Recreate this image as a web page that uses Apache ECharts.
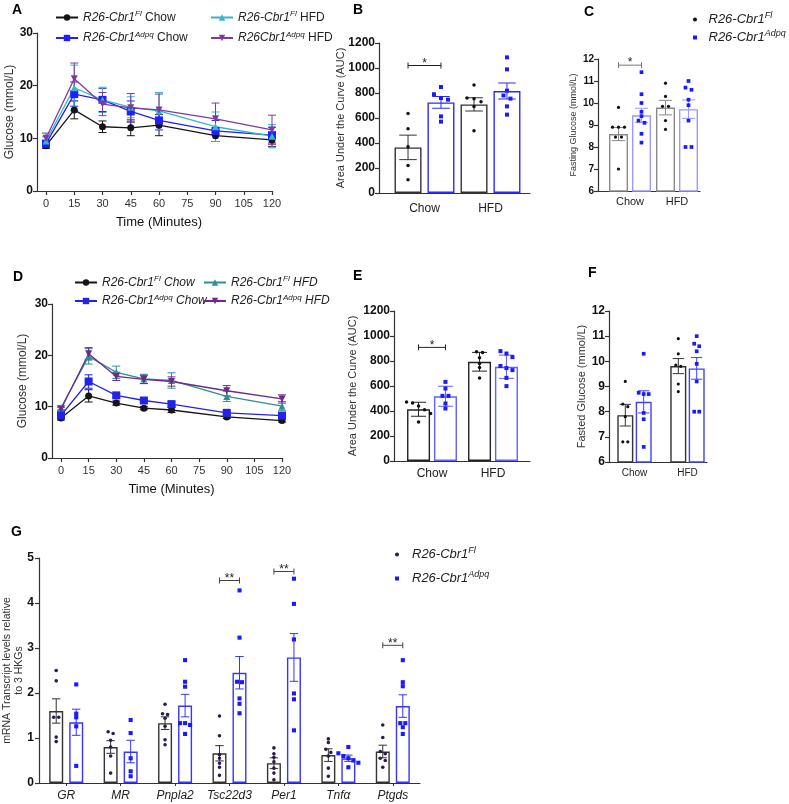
<!DOCTYPE html>
<html><head><meta charset="utf-8">
<script src="https://cdn.jsdelivr.net/npm/echarts@6/dist/echarts.min.js"></script>
<style>html,body{margin:0;padding:0;background:#fff}#c{width:789px;height:804px}</style>
</head><body><div id="c"></div>
<script>
// ================= DATA =================
const timePoints = [0, 15, 30, 45, 60, 90, 120];
// Panel A
const A_flChow = [8.6, 15.4, 12.2, 12.0, 12.5, 10.5, 9.7];
const A_flChowErr = [0.5, 1.7, 1.1, 1.5, 2.0, 1.1, 1.3];
const A_adChow = [9.0, 18.4, 17.3, 15.1, 13.4, 11.4, 10.6];
const A_adChowErr = [0.6, 2.3, 2.2, 2.0, 1.8, 2.0, 1.5];
const A_flHfd = [9.5, 19.6, 17.3, 15.9, 15.2, 12.2, 10.4];
const A_flHfdErr = [0.8, 4.3, 2.4, 2.0, 3.5, 2.8, 2.2];
const A_adHfd = [10.0, 21.3, 16.5, 15.8, 15.4, 13.7, 11.6];
const A_adHfdErr = [1.0, 3.0, 2.2, 2.7, 3.0, 3.0, 2.8];
// Panel D
const D_flChow = [7.8, 12.1, 10.7, 9.7, 9.35, 8.0, 7.3];
const D_flChowErr = [0.4, 1.2, 0.4, 0.3, 0.5, 0.3, 0.3];
const D_adChow = [8.3, 14.9, 12.2, 11.2, 10.5, 8.8, 8.25];
const D_adChowErr = [0.4, 1.3, 0.3, 0.3, 0.4, 0.3, 0.4];
const D_flHfd = [9.8, 19.8, 16.7, 15.4, 15.1, 12.0, 10.1];
const D_flHfdErr = [0.4, 1.5, 1.2, 0.9, 1.5, 1.0, 0.9];
const D_adHfd = [9.5, 20.3, 15.9, 15.3, 14.9, 13.1, 11.5];
const D_adHfdErr = [0.4, 1.2, 0.8, 0.8, 0.9, 1.0, 0.8];

const dietCats = ['Chow', 'HFD'];
// Panel B (AUC)
const B_flMean = [365, 709], B_flErr = [98, 53];
const B_adMean = [725, 816], B_adErr = [47, 64];
const B_flPts = [[637, 515, 371, 221, 107], [864, 760, 755, 730, 693, 499]];
const B_adPts = [[848, 790, 760, 747, 613, 571], [1085, 989, 819, 780, 755, 693, 627]];
const B_sigCat = [0], B_sigY = [1020], B_sigText = ['*'];
// Panel C (fasting glucose)
const C_flMean = [8.59, 9.79], C_flErr = [0.30, 0.33];
const C_adMean = [9.44, 9.72], C_adErr = [0.32, 0.42];
const C_flPts = [[9.8, 8.9, 8.9, 8.9, 8.45, 8.45, 7.0], [10.9, 10.3, 9.85, 9.85, 9.2, 8.8]];
const C_adPts = [[11.4, 10.4, 10.0, 9.6, 9.4, 9.2, 9.1, 8.6, 8.2], [11.0, 10.7, 10.6, 10.15, 9.9, 9.2, 8.0, 8.0]];
const C_sigCat = [0], C_sigY = [11.72], C_sigText = ['*'];
// Panel E (AUC)
const E_flMean = [414, 794], E_flErr = [56, 75];
const E_adMean = [518, 754], E_adErr = [80, 93];
const E_flPts = [[473, 465, 440, 410, 380, 313], [874, 869, 826, 780, 748, 665]];
const E_adPts = [[633, 580, 521, 521, 460, 420], [879, 860, 831, 760, 743, 727, 665, 599]];
const E_sigCat = [0], E_sigY = [909], E_sigText = ['*'];
// Panel F (fasted glucose)
const F_flMean = [7.86, 9.81], F_flErr = [0.43, 0.30];
const F_adMean = [8.39, 9.72], F_adErr = [0.44, 0.43];
const F_flPts = [[9.2, 8.3, 8.2, 7.8, 6.8, 6.8], [10.9, 10.3, 9.85, 9.8, 9.1, 8.8]];
const F_adPts = [[10.3, 8.75, 8.7, 8.7, 7.95, 7.7, 6.6], [11.0, 10.7, 10.6, 10.4, 9.9, 9.2, 8.0, 8.0]];
// Panel G (mRNA)
const genes = ['GR', 'MR', 'Pnpla2', 'Tsc22d3', 'Per1', 'Tnfα', 'Ptgds'];
const G_flMean = [1.60, 0.80, 1.33, 0.66, 0.44, 0.62, 0.70];
const G_flErr = [0.27, 0.14, 0.14, 0.17, 0.12, 0.14, 0.14];
const G_adMean = [1.35, 0.70, 1.72, 2.45, 2.79, 0.55, 1.71];
const G_adErr = [0.29, 0.25, 0.25, 0.36, 0.53, 0.07, 0.25];
const G_flPts = [
  [2.5, 2.27, 1.46, 1.46, 1.02, 0.92],
  [1.14, 1.1, 0.95, 0.8, 0.6, 0.22],
  [1.75, 1.54, 1.52, 1.44, 1.26, 0.96, 0.85],
  [1.49, 1.05, 0.63, 0.55, 0.44, 0.35, 0.17],
  [0.78, 0.65, 0.57, 0.47, 0.33, 0.22, 0.07],
  [0.98, 0.9, 0.75, 0.68, 0.6, 0.33, 0.15],
  [1.29, 1.01, 0.7, 0.65, 0.55, 0.5, 0.35]
];
const G_adPts = [
  [2.19, 1.54, 1.46, 1.26, 0.38],
  [1.4, 1.11, 0.55, 0.26, 0.15],
  [2.73, 2.25, 2.14, 1.33, 1.33, 1.29, 1.09],
  [4.28, 3.23, 2.25, 2.24, 1.88, 1.76, 1.55],
  [4.54, 3.98, 3.19, 1.99, 1.86, 1.17],
  [0.8, 0.66, 0.6, 0.55, 0.5, 0.45, 0.35],
  [2.73, 2.24, 2.15, 1.33, 1.33, 1.24, 1.09]
];
const G_sigCat = [3, 4, 6], G_sigY = [4.5, 4.7, 3.06], G_sigText = ['**', '**', '**'];

// ================= CHART =================
const FONT = '"Liberation Sans", Arial, sans-serif';
const AX = '#333';
const grid = [], xAxis = [], yAxis = [], series = [], legend = [], title = [];
const plain = function (v) { return String(v); };

function addGrid(l, r, t, b) { grid.push({ left: l, top: t, width: r - l, height: b - t }); return grid.length - 1; }
function aLine() { return { show: true, onZero: false, lineStyle: { color: AX, width: 1.2 } }; }

function frame(l, r, t, b, ymin, ymax, yint, yname, o) {
  const g = addGrid(l, r, t, b);
  xAxis.push({ gridIndex: g, type: 'value', min: 0, max: 1, axisLine: aLine(), axisTick: { show: false }, axisLabel: { show: false }, splitLine: { show: false } });
  yAxis.push({ gridIndex: g, type: 'value', min: ymin, max: ymax, interval: yint, axisLine: aLine(),
    axisTick: { show: true, length: 4, lineStyle: { color: AX, width: 1.2 } },
    axisLabel: { fontFamily: FONT, fontWeight: 'bold', fontSize: o.ls, color: '#111', margin: 4, formatter: plain },
    splitLine: { show: false }, name: yname, nameLocation: 'middle', nameGap: o.ng, nameRotate: 90, nameMoveOverlap: false,
    nameTextStyle: { fontFamily: FONT, fontSize: o.ns, color: '#333', lineHeight: o.lh || o.ns + 2 } });
  return g;
}
function lineData(l, r, t, b, ymax, o) {
  const g = addGrid(l, r, t, b);
  xAxis.push({ gridIndex: g, type: 'value', min: 0, max: 120, interval: 15, axisLine: aLine(),
    axisTick: { show: true, length: 4, lineStyle: { color: AX, width: 1.2 } },
    axisLabel: { fontFamily: FONT, fontSize: 11, color: '#333', margin: 7, formatter: plain }, splitLine: { show: false },
    name: 'Time (Minutes)', nameLocation: 'middle', nameGap: o.ng, nameTextStyle: { fontFamily: FONT, fontSize: 13, color: '#111' } });
  yAxis.push({ gridIndex: g, type: 'value', min: 0, max: ymax, show: false });
  return g;
}
function barData(l, r, t, b, ymin, ymax, o) {
  const g = addGrid(l, r, t, b);
  xAxis.push({ gridIndex: g, type: 'category', data: dietCats, axisLine: { show: false }, axisTick: { show: false },
    axisLabel: { fontFamily: FONT, fontSize: o.ls, color: '#222', margin: o.m, interval: 0 }, splitLine: { show: false } });
  yAxis.push({ gridIndex: g, type: 'value', min: ymin, max: ymax, show: false });
  return g;
}

function errRender(off, cap, color, lw) {
  return function (params, api) {
    const x0 = api.value(0), m = api.value(1), e = api.value(2);
    const t = api.coord([x0, m + e]), b = api.coord([x0, m - e]);
    const x = t[0] + off, st = { stroke: color, lineWidth: lw || 1 };
    return { type: 'group', children: [
      { type: 'line', shape: { x1: x, y1: t[1], x2: x, y2: b[1] }, style: st },
      { type: 'line', shape: { x1: x - cap / 2, y1: t[1], x2: x + cap / 2, y2: t[1] }, style: st },
      { type: 'line', shape: { x1: x - cap / 2, y1: b[1], x2: x + cap / 2, y2: b[1] }, style: st }
    ] };
  };
}
function ptRender(off, spacing, shape, size, color) {
  return function (params, api) {
    const c = api.coord([api.value(0), api.value(1)]);
    const x = c[0] + off + api.value(2) * spacing, y = c[1];
    if (shape === 'circle') return { type: 'circle', shape: { cx: x, cy: y, r: size / 2 }, style: { fill: color } };
    return { type: 'rect', shape: { x: x - size / 2, y: y - size / 2, width: size, height: size }, style: { fill: color } };
  };
}
function sigRender(off, color) {
  return function (params, api) {
    const c = api.coord([api.value(0), api.value(1)]);
    const x1 = c[0] - off, x2 = c[0] + off, y = c[1];
    const st = { stroke: color, lineWidth: 1 };
    return { type: 'group', children: [
      { type: 'line', shape: { x1: x1, y1: y, x2: x2, y2: y }, style: st },
      { type: 'line', shape: { x1: x1, y1: y - 3, x2: x1, y2: y + 3 }, style: st },
      { type: 'line', shape: { x1: x2, y1: y - 3, x2: x2, y2: y + 3 }, style: st },
      { type: 'text', x: (x1 + x2) / 2, y: y - 2, style: { text: api.value(2), align: 'center', verticalAlign: 'middle', fontSize: 12, fontFamily: FONT, fill: '#222' } }
    ] };
  };
}
function buildPts(groups, thr) {
  const out = [];
  groups.forEach(function (vals, ci) {
    const s = vals.slice().sort(function (a, b) { return b - a; });
    let cl = [];
    const flush = function () { cl.forEach(function (v, k) { out.push([ci, v, k - (cl.length - 1) / 2]); }); cl = []; };
    s.forEach(function (v) { if (cl.length && Math.abs(cl[cl.length - 1] - v) > thr) flush(); cl.push(v); });
    flush();
  });
  return out;
}

function barPanel(g, d, o) {
  const off = o.bw * (1 + o.gap) / 2;
  [['fl', -off], ['ad', off]].forEach(function (p) {
    const k = p[0], dx = p[1];
    series.push({ type: 'bar', xAxisIndex: g, yAxisIndex: g, data: d[k + 'Mean'], barWidth: o.bw, barGap: (o.gap * 100) + '%',
      itemStyle: { color: '#fff', borderColor: o.col[k], borderWidth: 1.4 }, z: 2, silent: true });
    series.push({ type: 'custom', xAxisIndex: g, yAxisIndex: g, clip: false, z: 4, silent: true,
      data: d[k + 'Mean'].map(function (m, i) { return [i, m, d[k + 'Err'][i]]; }),
      renderItem: errRender(dx, o.bw * o.capF, o.col[k], 1) });
    series.push({ type: 'custom', name: o.names ? o.names[k] : undefined, xAxisIndex: g, yAxisIndex: g, clip: false, z: 5, silent: true,
      itemStyle: { color: o.ptCol[k] },
      data: buildPts(d[k + 'Pts'], o.thr),
      renderItem: ptRender(dx, o.sp, k === 'fl' ? 'circle' : 'rect', k === 'fl' ? o.ps : o.ps + 0.5, o.ptCol[k]) });
  });
  if (d.sigCat) {
    series.push({ type: 'custom', xAxisIndex: g, yAxisIndex: g, clip: false, z: 6, silent: true,
      data: d.sigCat.map(function (c, i) { return [c, d.sigY[i], d.sigText[i]]; }),
      dimensions: ['x', 'y', { name: 't', type: 'ordinal' }],
      renderItem: sigRender(off, o.sigCol || '#333') });
  }
}

function linePanel(g, list) {
  list.forEach(function (s) {
    series.push({ type: 'custom', xAxisIndex: g, yAxisIndex: g, clip: false, z: 2, silent: true,
      data: timePoints.map(function (t, i) { return [t, s.data[i], s.err[i]]; }),
      renderItem: errRender(0, 8, s.ecol || s.color, 1) });
    series.push({ type: 'line', name: s.name, xAxisIndex: g, yAxisIndex: g, z: 3, silent: true,
      data: timePoints.map(function (t, i) { return [t, s.data[i]]; }),
      symbol: s.symbol, symbolSize: s.size, showAllSymbol: true,
      itemStyle: { color: s.color }, lineStyle: { color: s.color, width: 1.3 } });
  });
}

const DOWN = 'path://M0,0L10,0L5,9Z';
const SQUARE = 'path://M0,0L10,0L10,10L0,10Z';
const DOT = 'path://M5,0A5,5,0,1,1,4.99,0Z';

// ---- Panel A ----
frame(37, 272, 33, 191, 0, 30, 10, 'Glucose (mmol/L)', { ls: 12, ng: 20, ns: 12 });
const gA = lineData(46, 272, 33, 191, 30, { ng: 25 });
linePanel(gA, [
  { name: 'aFlChow', data: A_flChow, err: A_flChowErr, color: '#151515', symbol: 'circle', size: 7 },
  { name: 'aAdChow', data: A_adChow, err: A_adChowErr, color: '#1f1fff', symbol: 'rect', size: 8 },
  { name: 'aFlHfd', data: A_flHfd, err: A_flHfdErr, color: '#35b7c4', symbol: 'triangle', size: 7 },
  { name: 'aAdHfd', data: A_adHfd, err: A_adHfdErr, color: '#7e3a9e', symbol: DOWN, size: 7 }
]);
// ---- Panel D ----
frame(52, 282, 304, 458, 0, 30, 10, 'Glucose (mmol/L)', { ls: 12, ng: 22, ns: 12 });
const gD = lineData(61, 282, 304, 458, 30, { ng: 25 });
linePanel(gD, [
  { name: 'dFlChow', data: D_flChow, err: D_flChowErr, color: '#151515', symbol: 'circle', size: 7 },
  { name: 'dAdChow', data: D_adChow, err: D_adChowErr, color: '#2222e8', symbol: 'rect', size: 8 },
  { name: 'dFlHfd', data: D_flHfd, err: D_flHfdErr, color: '#2b9090', symbol: 'triangle', size: 7 },
  { name: 'dAdHfd', data: D_adHfd, err: D_adHfdErr, color: '#6b2a8c', symbol: DOWN, size: 7 }
]);
// ---- Panel B ----
frame(379, 530, 43, 193, 0, 1200, 200, 'Area Under the Curve (AUC)', { ls: 12, ng: 32, ns: 11 });
const gB = barData(391.5, 523.5, 43, 193, 0, 1200, { ls: 12, m: 10 });
barPanel(gB, { flMean: B_flMean, flErr: B_flErr, adMean: B_adMean, adErr: B_adErr, flPts: B_flPts, adPts: B_adPts, sigCat: B_sigCat, sigY: B_sigY, sigText: B_sigText },
  { bw: 27, gap: 0.22, capF: 0.65, col: { fl: '#333', ad: '#2b2bff' }, ptCol: { fl: '#111', ad: '#1a1aff' }, ps: 3.5, sp: 7, thr: 35, sigCol: '#222' });
// ---- Panel C ----
frame(598, 700, 59, 191, 6, 12, 1, 'Fasting Glucose (mmol/L)', { ls: 10, ng: 19, ns: 9 });
const gC = barData(606.5, 700.5, 59, 191, 6, 12, { ls: 11, m: 5 });
barPanel(gC, { flMean: C_flMean, flErr: C_flErr, adMean: C_adMean, adErr: C_adErr, flPts: C_flPts, adPts: C_adPts, sigCat: C_sigCat, sigY: C_sigY, sigText: C_sigText },
  { bw: 19, gap: 0.21, capF: 0.7, col: { fl: '#8a8a8a', ad: '#9a9aff' }, ptCol: { fl: '#111', ad: '#1a1aff' }, ps: 3.2, sp: 6, thr: 0.12, sigCol: '#777', names: { fl: 'cFl', ad: 'cAd' } });
// ---- Panel E ----
frame(394, 530, 311, 461, 0, 1200, 200, 'Area Under the Curve (AUC)', { ls: 12, ng: 35, ns: 11 });
const gE = barData(401.5, 523.5, 311, 461, 0, 1200, { ls: 12, m: 7 });
barPanel(gE, { flMean: E_flMean, flErr: E_flErr, adMean: E_adMean, adErr: E_adErr, flPts: E_flPts, adPts: E_adPts, sigCat: E_sigCat, sigY: E_sigY, sigText: E_sigText },
  { bw: 23, gap: 0.17, capF: 0.65, col: { fl: '#222', ad: '#6060ff' }, ptCol: { fl: '#111', ad: '#1a1aff' }, ps: 3.5, sp: 6, thr: 30, sigCol: '#222' });
// ---- Panel F ----
frame(609, 707, 311, 462, 6, 12, 1, 'Fasted Glucose (mmol/L)', { ls: 12, ng: 21, ns: 11 });
const gF = barData(608, 714, 311, 462, 6, 12, { ls: 10, m: 6 });
barPanel(gF, { flMean: F_flMean, flErr: F_flErr, adMean: F_adMean, adErr: F_adErr, flPts: F_flPts, adPts: F_adPts },
  { bw: 16, gap: 0.15, capF: 0.7, col: { fl: '#333', ad: '#4040ff' }, ptCol: { fl: '#111', ad: '#1a1aff' }, ps: 3.2, sp: 5, thr: 0.12 });
// ---- Panel G ----
const gG = addGrid(38, 420, 558, 783);
xAxis.push({ gridIndex: gG, type: 'category', data: genes, axisLine: aLine(),
  axisTick: { show: true, alignWithLabel: true, length: 3, lineStyle: { color: AX } },
  axisLabel: { fontFamily: FONT, fontSize: 12, fontStyle: 'italic', color: '#222', margin: 7, interval: 0 }, splitLine: { show: false } });
yAxis.push({ gridIndex: gG, type: 'value', min: 0, max: 5, interval: 1, axisLine: aLine(),
  axisTick: { show: true, length: 4, lineStyle: { color: AX, width: 1.2 } },
  axisLabel: { fontFamily: FONT, fontWeight: 'bold', fontSize: 12, color: '#111', margin: 5, formatter: plain }, splitLine: { show: false },
  name: 'mRNA Transcript levels relative\nto 3 HKGs', nameLocation: 'middle', nameGap: 14, nameRotate: 90, nameMoveOverlap: false,
  nameTextStyle: { fontFamily: FONT, fontSize: 10.5, color: '#333', lineHeight: 12 } });
barPanel(gG, { flMean: G_flMean, flErr: G_flErr, adMean: G_adMean, adErr: G_adErr, flPts: G_flPts, adPts: G_adPts, sigCat: G_sigCat, sigY: G_sigY, sigText: G_sigText },
  { bw: 14, gap: 0.43, capF: 0.6, col: { fl: '#333', ad: '#3535ff' }, ptCol: { fl: '#2c1a4a', ad: '#1a1aff' }, ps: 3.6, sp: 5, thr: 0.07, sigCol: '#444', names: { fl: 'gFl', ad: 'gAd' } });

// ---- legends ----
const RICH = {
  i: { fontStyle: 'italic', fontSize: 12, fontFamily: FONT, color: '#222' },
  n: { fontSize: 12, fontFamily: FONT, color: '#222' },
  s: { fontStyle: 'italic', fontSize: 8, fontFamily: FONT, color: '#222', padding: [0, 0, 7, 0] },
  L: { fontStyle: 'italic', fontSize: 13, fontFamily: FONT, color: '#222' },
  ls: { fontStyle: 'italic', fontSize: 9, fontFamily: FONT, color: '#222', padding: [0, 0, 8, 0] }
};
const LABELS = {
  aFlChow: '{i|R26-Cbr1}{s|Fl}{n| Chow}', aAdChow: '{i|R26-Cbr1}{s|Adpq}{n| Chow}',
  aFlHfd: '{i|R26-Cbr1}{s|Fl}{n| HFD}', aAdHfd: '{i|R26Cbr1}{s|Adpq}{n| HFD}',
  dFlChow: '{i|R26-Cbr1}{s|Fl}{i| Chow}', dAdChow: '{i|R26-Cbr1}{s|Adpq}{i| Chow}',
  dFlHfd: '{i|R26-Cbr1}{s|Fl}{i| HFD}', dAdHfd: '{i|R26-Cbr1}{s|Adpq}{i| HFD}',
  cFl: '{L|R26-Cbr1}{ls|Fl}', cAd: '{L|R26-Cbr1}{ls|Adpq}',
  gFl: '{L|R26-Cbr1}{ls|Fl}', gAd: '{L|R26-Cbr1}{ls|Adpq}'
};
function fmt(n) { return LABELS[n]; }
function lg(left, top, data, o) {
  legend.push(Object.assign({ left: left, top: top, orient: 'vertical', selectedMode: false, itemGap: 6,
    itemWidth: 22, itemHeight: 8, padding: 0, data: data, formatter: fmt, textStyle: { rich: RICH } }, o || {}));
}
lg(55, 10, ['aFlChow', 'aAdChow'], { itemGap: 7 });
lg(210, 10, ['aFlHfd', 'aAdHfd'], { itemGap: 7 });
lg(74, 275, ['dFlChow', 'dAdChow'], { itemGap: 5 });
lg(203, 275, ['dFlHfd', 'dAdHfd'], { itemGap: 5 });
lg(693, 11, [{ name: 'cFl', icon: DOT, itemStyle: { color: '#111' } }, { name: 'cAd', icon: SQUARE, itemStyle: { color: '#1a1aff' } }],
  { itemWidth: 17, itemHeight: 4, itemGap: 3, symbolKeepAspect: true });
lg(395, 546, [{ name: 'gFl', icon: DOT, itemStyle: { color: '#2c1a4a' } }, { name: 'gAd', icon: SQUARE, itemStyle: { color: '#1a1aff' } }],
  { itemWidth: 20, itemHeight: 4, itemGap: 9, symbolKeepAspect: true });

// ---- panel letters ----
[['A', 12, 3], ['B', 353, 3], ['C', 584, 5], ['D', 13, 270], ['E', 353, 269], ['F', 588, 266], ['G', 11, 525]].forEach(function (p) {
  title.push({ text: p[0], left: p[1], top: p[2], padding: 0, textStyle: { fontFamily: FONT, fontSize: 14, fontWeight: 'bold', color: '#000' } });
});

const chart = echarts.init(document.getElementById('c'));
chart.setOption({ animation: false, backgroundColor: '#fff', textStyle: { fontFamily: FONT }, title: title, legend: legend, grid: grid, xAxis: xAxis, yAxis: yAxis, series: series });
</script>
</body></html>
